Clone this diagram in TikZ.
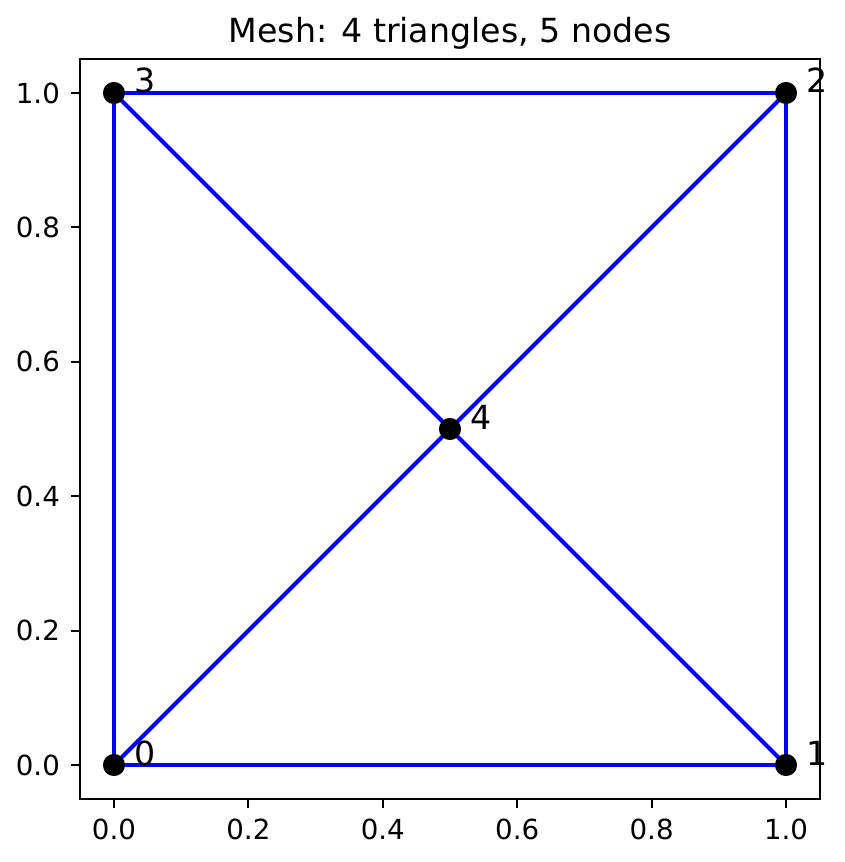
\documentclass[tikz,border=0pt]{standalone}
\usepackage{fontspec}
\setmainfont{DejaVu Sans}
\usetikzlibrary{backgrounds}

\begin{document}
\begin{tikzpicture}[
        x=242.83pt,
        y=242.83pt,
        vert/.style={
            circle,
            fill=black,
            inner sep=0pt,
            minimum size=8pt
        },
        edge/.style={draw=blue, line width=1.5pt},
        num/.style={anchor=base west, inner sep=0pt, font=\fontsize{12}{14}\selectfont},
        axtick/.style={line width=0.8pt},
        ticklbl/.style={inner sep=0pt, font=\fontsize{10}{12}\selectfont}
    ]
        \useasboundingbox (-0.1696,-0.1443) rectangle (1.0878,1.1384);

        \node[vert] (n0) at (0,0) {};
        \node[vert] (n1) at (1,0) {};
        \node[vert] (n2) at (1,1) {};
        \node[vert] (n3) at (0,1) {};
        \node[vert] (n4) at (0.5,0.5) {};

        \begin{scope}[on background layer]
            \draw[edge] (n0.center) -- (n1.center);
            \draw[edge] (n1.center) -- (n2.center);
            \draw[edge] (n2.center) -- (n3.center);
            \draw[edge] (n3.center) -- (n0.center);
            \draw[edge] (n0.center) -- (n4.center);
            \draw[edge] (n1.center) -- (n4.center);
            \draw[edge] (n2.center) -- (n4.center);
            \draw[edge] (n3.center) -- (n4.center);
        \end{scope}

        \node[num] (l0) at (0.03,0) {0};
        \node[num] (l1) at (1.03,0) {1};
        \node[num] (l2) at (1.03,1) {2};
        \node[num] (l3) at (0.03,1) {3};
        \node[num] (l4) at (0.53,0.5) {4};

        % axes frame and ticks
        \draw[line width=0.8pt] (-0.05,-0.05) rectangle (1.05,1.05);
        \foreach \v [count=\i] in {0.0,0.2,0.4,0.6,0.8,1.0} {
            \draw[axtick] (\v,-0.05) -- ++(0,-0.0144)
                node[ticklbl, anchor=north, yshift=-3.5pt] (xt\i) {\v};
            \draw[axtick] (-0.05,\v) -- ++(-0.0144,0)
                node[ticklbl, anchor=east, xshift=-3.5pt] (yt\i) {\v};
        }

        \node[anchor=base, inner sep=0pt, font=\fontsize{12}{14}\selectfont] (title)
            at (0.5,1.0747) {Mesh: 4 triangles, 5 nodes};
    \end{tikzpicture}
\end{document}
